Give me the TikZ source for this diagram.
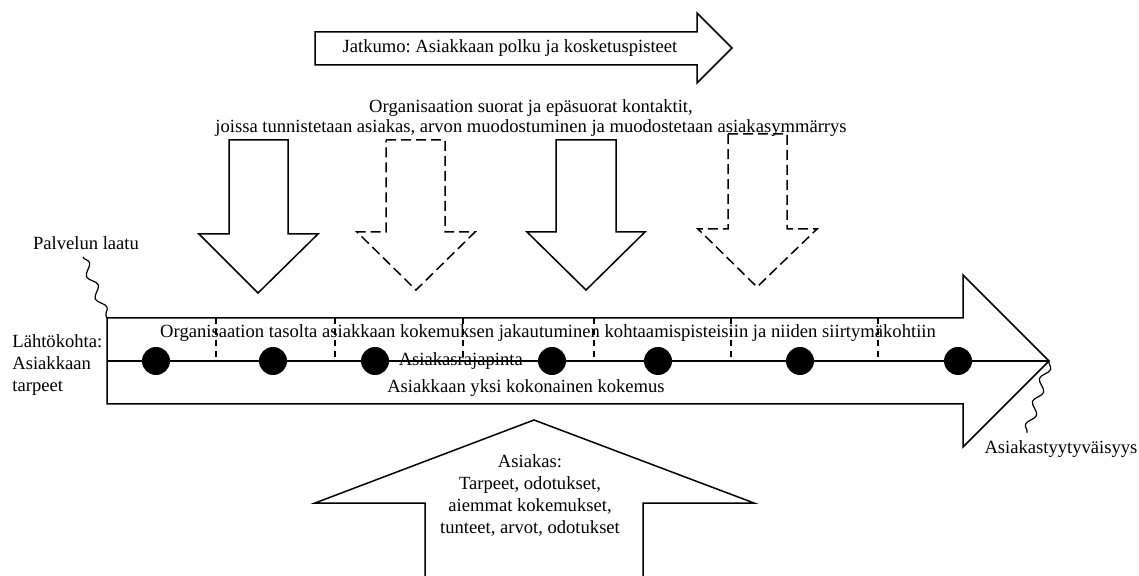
\documentclass[tikz,border=0pt]{standalone}
\usepackage{fontspec}
\setmainfont{Liberation Serif}
\frenchspacing
\usetikzlibrary{positioning, decorations.pathmorphing}
\tikzset{
    base/.style={font=\fontsize{9.3}{11}\selectfont, inner sep=0pt},
    caption/.style={base, align=center},
    outline/.style={draw=black, line width=0.75pt, line join=miter},
    dashed-outline/.style={outline, dash pattern=on 5pt off 2.5pt},
    divider/.style={draw=black, line width=0.7pt, dash pattern=on 3pt off 2.5pt},
    touchpoint/.style={circle, fill=black, minimum size=14pt, inner sep=0pt},
    wavy/.style={draw=black, line width=0.6pt, decorate, decoration={snake, amplitude=2pt, segment length=12pt}}
}

\begin{document}
\begin{tikzpicture}[x=0.5pt, y=-0.5pt]
    \useasboundingbox (0,0) rectangle (1139,576);

    \draw [outline] (315,32) -- (697,32) -- (697,13) -- (732,48) -- (697,83) -- (697,65) -- (315,65) -- cycle;
    \node [caption] (Jatkumo) at (510,48) {Jatkumo: Asiakkaan polku ja kosketuspisteet};

    \node [caption, font=\fontsize{9.3}{10}\selectfont] (Kontaktit) at (531,118) {Organisaation suorat ja epäsuorat kontaktit,\\joissa tunnistetaan asiakas, arvon muodostuminen ja muodostetaan asiakasymmärrys};

    \draw [outline] (229,140) -- (288,140) -- (288,234) -- (318,234) -- (258,293) -- (199,234) -- (229,234) -- cycle;
    \draw [dashed-outline] (386,140) -- (445,140) -- (445,232) -- (475,232) -- (416,290) -- (357,232) -- (386,232) -- cycle;
    \draw [outline] (556,140) -- (616,140) -- (616,232) -- (645,232) -- (586,290) -- (527,232) -- (556,232) -- cycle;
    \draw [dashed-outline] (728,134) -- (787,134) -- (787,229) -- (817,229) -- (757,287) -- (698,229) -- (728,229) -- cycle;

    \draw [outline] (107,318) -- (963,318) -- (963,275) -- (1049,361) -- (963,447) -- (963,404) -- (107,404) -- cycle;
    \coordinate (MainStart) at (107,318);
    \coordinate (MainTip) at (1049,361);
    \draw [outline] (107,361) -- (MainTip);
    \foreach \x in {216,335,463,594,731,878}
        \draw [divider] (\x,318) -- (\x,361);
    \foreach \x [count=\i] in {156,273,375,552,658,800,958}
        \node [touchpoint] (Dot\i) at (\x,361) {};

    \node [caption] (Jakautuminen) at (548,333) {Organisaation tasolta asiakkaan kokemuksen jakautuminen kohtaamispisteisiin ja niiden siirtymäkohtiin};
    \node [base, right=4.5pt of Dot3] (Rajapinta) {Asiakasrajapinta};
    \node [caption] (Kokemus) at (526,388) {Asiakkaan yksi kokonainen kokemus};

    \node [base, align=left, anchor=west] (Lahtokohta) at (12,365) {Lähtökohta:\\Asiakkaan\\tarpeet};

    \node [caption] (Laatu) at (86,243) {Palvelun laatu};
    \draw [wavy] (83,257) -- (MainStart);

    \node [caption] (Tyytyvaisyys) at (1061,449) {Asiakastyytyväisyys};
    \draw [wavy] (MainTip) -- (1027,433);

    \draw [outline] (425,576) -- (425,503) -- (315,503) -- (534,420) -- (754,503) -- (643,503) -- (643,576);
    \node [caption] (Asiakas) at (530,495) {Asiakas:\\Tarpeet, odotukset,\\aiemmat kokemukset,\\tunteet, arvot, odotukset};
\end{tikzpicture}
\end{document}
